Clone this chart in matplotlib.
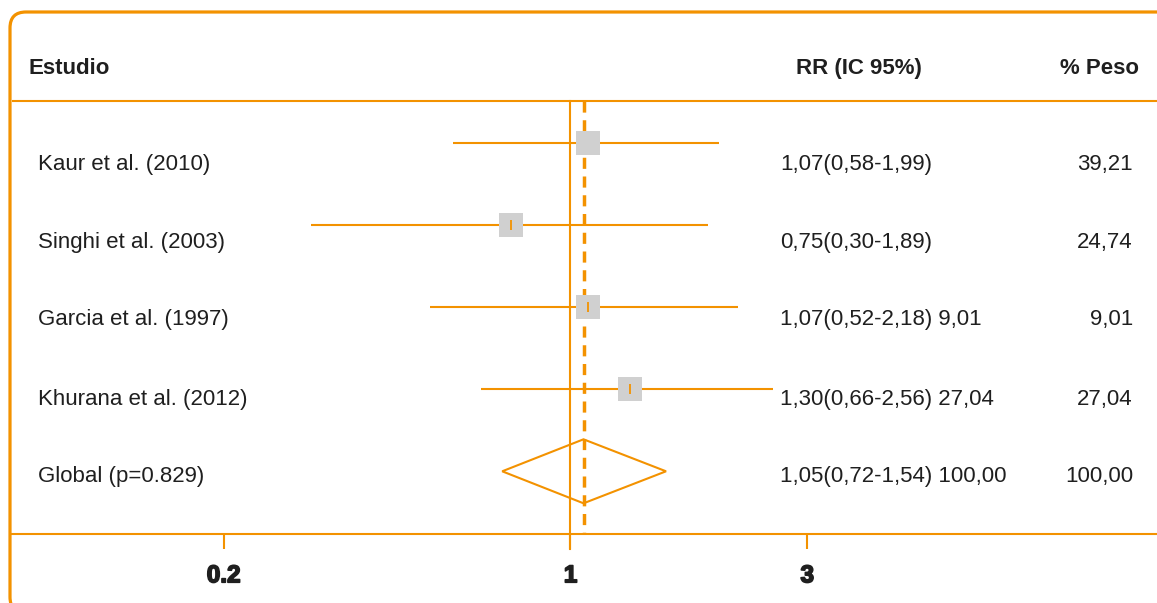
import numpy as np
import matplotlib
matplotlib.use("Agg")
import matplotlib.pyplot as plt
from matplotlib.patches import FancyBboxPatch, Polygon
from matplotlib.transforms import IdentityTransform, ScaledTranslation
import matplotlib.transforms as mtransforms
import matplotlib.patheffects as pe

# ---------------- data ----------------
studies = ["Kaur et al. (2010)", "Singhi et al. (2003)", "Garcia et al. (1997)", "Khurana et al. (2012)"]
rr = [1.07, 0.75, 1.07, 1.30]
ci_low = [0.58, 0.30, 0.52, 0.66]
ci_high = [1.99, 1.89, 2.18, 2.56]
rr_labels = ["1,07(0,58-1,99)", "0,75(0,30-1,89)", "1,07(0,52-2,18) 9,01", "1,30(0,66-2,56) 27,04"]
weight_labels = ["39,21", "24,74", "9,01", "27,04"]
show_tick = [False, True, True, True]

global_label = "Global (p=0.829)"
global_rr = 1.05
global_low = 0.72
global_high = 1.54
global_rr_label = "1,05(0,72-1,54) 100,00"
global_weight_label = "100,00"

headers = ["Estudio", "RR (IC 95%)", "% Peso"]
xticks = [0.2, 1, 3]
xtick_labels = ["0.2", "1", "3"]

# ---------------- style / layout ----------------
W, H = 1157, 603
ORANGE = "#F39200"
GREY = "#D0D0D0"
TXT = "#1f1f1f"
FONT = "Liberation Sans"

px_per_ln = 215.5
x_one_px = 570.5
row0_px = 143.3
row_px = 82.0

def px2x(px):
    return float(np.exp((px - x_one_px) / px_per_ln))

def px2y(py):
    return (py - row0_px) / row_px

fig = plt.figure(figsize=(W / 100, H / 100), dpi=100)
ax = fig.add_axes([0, 0, 1, 1])
ax.set_xscale("log")
ax.set_xlim(px2x(0), px2x(W))
ax.set_ylim(px2y(H), px2y(0))
ax.patch.set_alpha(0)

# small horizontal nudge used for estimate marks (as in the reference)
nudge = ax.transData + ScaledTranslation(2.5 / 100, 0, fig.dpi_scale_trans)

y_header_line = px2y(101)
y_axis_line = px2y(534)
y_header_text = px2y(74)
text_baselines_px = [170, 248.3, 325, 405, 481.5]

# spines / axis
for s in ["top", "right", "left"]:
    ax.spines[s].set_visible(False)
ax.spines["bottom"].set_position(("data", y_axis_line))
ax.spines["bottom"].set_color(ORANGE)
ax.spines["bottom"].set_linewidth(1.5)
ax.spines["bottom"].set_bounds(px2x(12), px2x(W + 10))
ax.set_yticks([])
ax.xaxis.set_minor_locator(matplotlib.ticker.NullLocator())
ax.set_xticks(xticks)
ax.set_xticklabels(xtick_labels)
ax.tick_params(axis="x", direction="out", length=10.8, width=1.5, color=ORANGE,
               pad=11, labelsize=17.5, labelcolor=TXT)
for lab in ax.get_xticklabels():
    lab.set_fontfamily(FONT)
    lab.set_fontweight("bold")
    lab.set_path_effects([pe.withStroke(linewidth=1.2, foreground=TXT)])

# header line
ax.plot([px2x(12), px2x(W + 10)], [y_header_line, y_header_line], color=ORANGE, lw=1.5,
        solid_capstyle="butt", zorder=2)

# vertical null line at 1 and dashed overall line
ax.plot([1, 1], [y_header_line, px2y(549)], color=ORANGE, lw=1.5, zorder=2)
ax.plot([global_rr, global_rr], [y_header_line, y_axis_line], color=ORANGE, lw=2.5,
        dashes=(3.2, 2.2), zorder=2, transform=nudge)

rows = np.arange(len(studies))
# CI lines
for i in rows:
    ax.plot([ci_low[i], ci_high[i]], [i, i], color=ORANGE, lw=1.5, zorder=3,
            solid_capstyle="butt")
# squares
ax.plot(rr, rows, linestyle="none", marker="s", markersize=17.3, color=GREY,
        markeredgewidth=0, zorder=4, transform=nudge)
# point ticks
tick_x = [r for r, s in zip(rr, show_tick) if s]
tick_y = [i for i, s in zip(rows, show_tick) if s]
ax.plot(tick_x, tick_y, linestyle="none", marker="|", markersize=7, color=ORANGE,
        markeredgewidth=1.3, zorder=5, transform=nudge)

# diamond
gy = len(studies)
dh = 32 / row_px
diamond = Polygon([(global_low, gy), (global_rr, gy - dh), (global_high, gy), (global_rr, gy + dh)],
                  closed=True, fill=False, edgecolor=ORANGE, lw=1.5, zorder=4, transform=nudge)
ax.add_patch(diamond)

# texts
trans = mtransforms.blended_transform_factory(ax.transAxes, ax.transData)
def fx(px):
    return px / W

ax.text(fx(29), y_header_text, headers[0], transform=trans, ha="left", va="baseline",
        fontsize=16, fontweight="bold", family=FONT, color=TXT)
ax.text(fx(796), y_header_text, headers[1], transform=trans, ha="left", va="baseline",
        fontsize=16, fontweight="bold", family=FONT, color=TXT)
ax.text(fx(1139), y_header_text, headers[2], transform=trans, ha="right", va="baseline",
        fontsize=16, fontweight="bold", family=FONT, color=TXT)

all_names = studies + [global_label]
all_rr = rr_labels + [global_rr_label]
all_w = weight_labels + [global_weight_label]
for i in range(len(all_names)):
    yy = px2y(text_baselines_px[i])
    ax.text(fx(38), yy, all_names[i], transform=trans, ha="left", va="baseline",
            fontsize=16, family=FONT, color=TXT)
    ax.text(fx(780), yy, all_rr[i], transform=trans, ha="left", va="baseline",
            fontsize=16, family=FONT, color=TXT)
    ax.text(fx(1133), yy, all_w[i], transform=trans, ha="right", va="baseline",
            fontsize=16, family=FONT, color=TXT)

# rounded border
box = FancyBboxPatch((10, -10), 1180, (H - 12) + 10, boxstyle="round,pad=0,rounding_size=16",
                     transform=IdentityTransform(), fill=False, edgecolor=ORANGE, lw=2.3)
fig.add_artist(box)

fig.savefig("out.png", dpi=100)
